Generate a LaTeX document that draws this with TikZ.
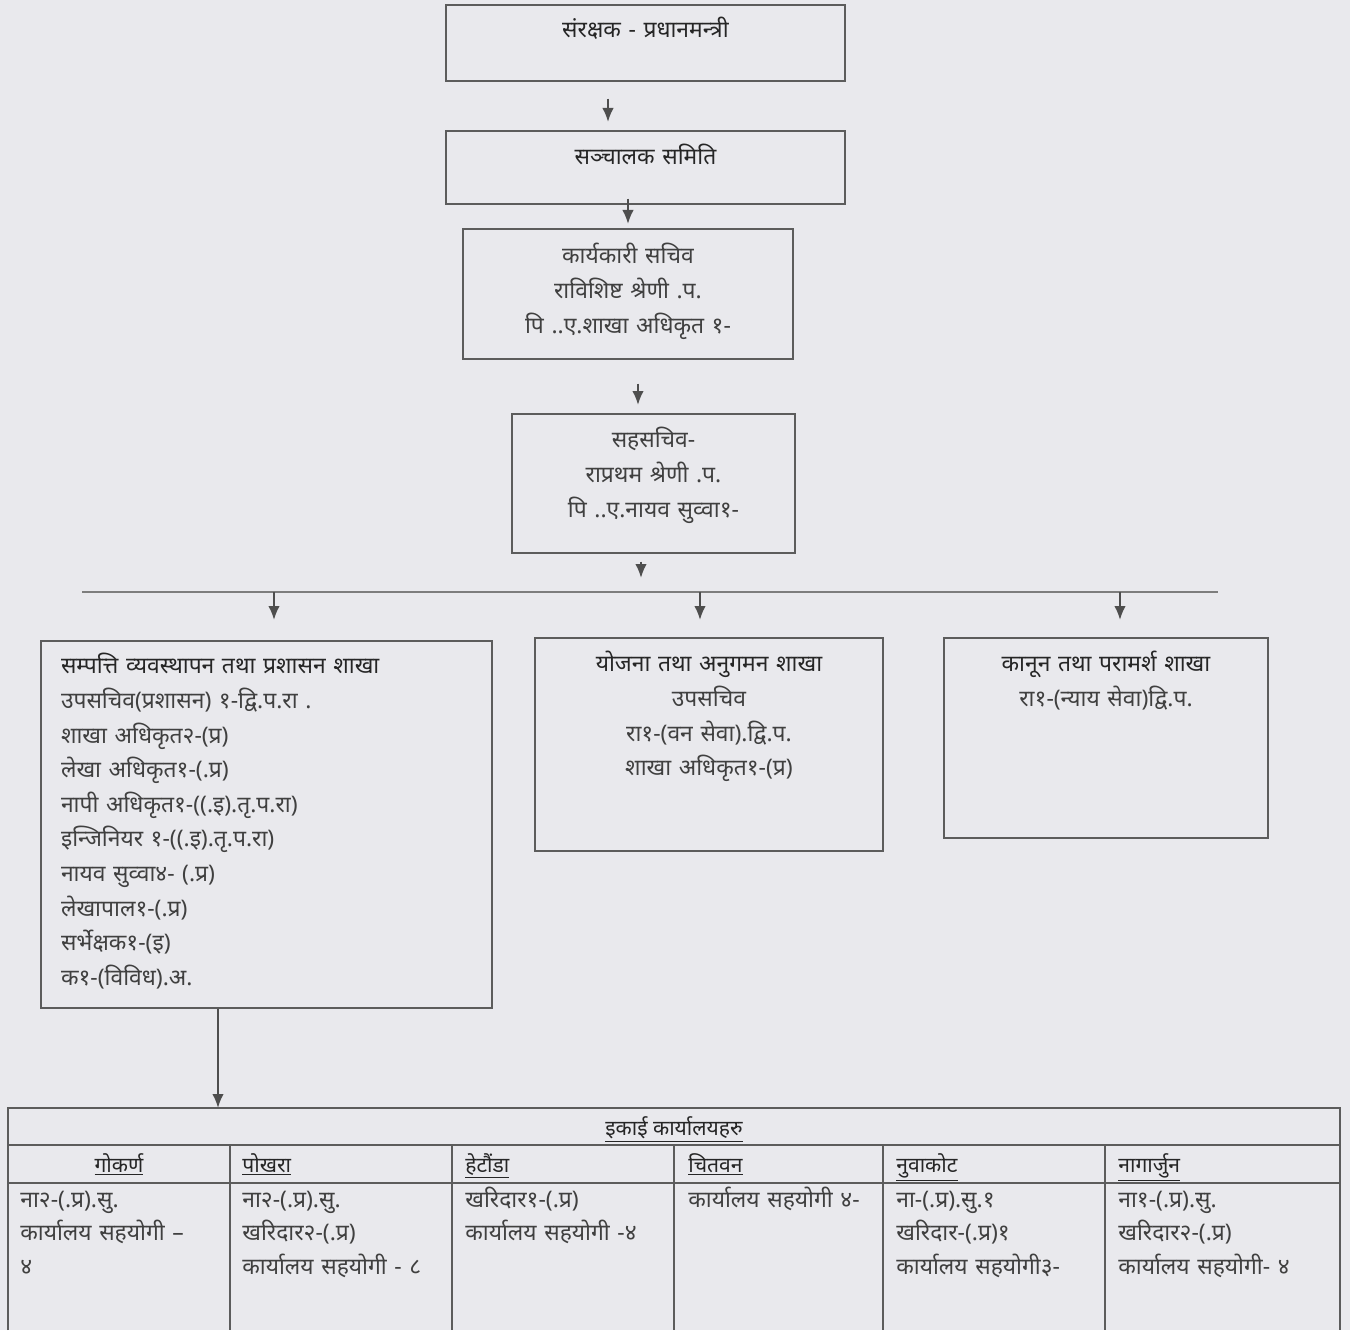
\documentclass[tikz,border=0pt]{standalone}
\usepackage{fontspec}
\usepackage{tikz}
\usetikzlibrary{arrows.meta,positioning}
\newfontfamily\deva[Script=Devanagari]{Noto Sans}
\definecolor{scanbg}{HTML}{E9E9ED}
\definecolor{scanline}{HTML}{5C5C5C}
\definecolor{scantext}{HTML}{404040}
\definecolor{scandark}{HTML}{262626}

\begin{document}
\begin{tikzpicture}[x=0.02cm,y=-0.02cm,
        box/.style={draw=scanline,line width=1pt,text=scantext,align=center,inner sep=0pt,anchor=north,
          font=\deva\fontsize{13}{19.7}\selectfont},
        lbox/.style={box,align=left,inner xsep=0.4cm},
        head/.style={text=scandark,inner sep=0pt,anchor=base west,font=\deva\fontsize{12}{14}\selectfont},
        cell/.style={text=scantext,align=left,inner sep=0pt,anchor=base west,text width=4.2cm,
          font=\deva\fontsize{13}{19.2}\selectfont},
        grid/.style={scanline,line width=0.9pt},
        bus/.style={scanline!80,line width=1.6pt},
        arr/.style={-{Latex[length=2.8mm,width=2.3mm]},scanline!85!black,line width=1.1pt}]
        \fill[scanbg](0,0)rectangle(1350,1330);
        % top chain
        \node[box,text width=7.98cm,text height=0.66cm,text depth=0.86cm](a)at(645.5,4){\color{scandark}संरक्षक - प्रधानमन्त्री};
        \node[box,text width=7.98cm,text height=0.68cm,text depth=0.78cm](b)at(645.5,130){\color{scandark}सञ्चालक समिति};
        \node[box,text width=6.6cm,text height=0.7cm,text depth=1.9cm](c)at(628,228){कार्यकारी सचिव\\राविशिष्ट श्रेणी .प.\\पि ..ए.शाखा अधिकृत १-};
        \node[box,text width=5.66cm,text height=0.68cm,text depth=2.1cm](d)at(653.5,413){सहसचिव-\\राप्रथम श्रेणी .प.\\पि ..ए.नायव सुव्वा१-};
        \draw[arr,shorten <=0.34cm,shorten >=0.16cm]([xshift=-0.75cm]a.south)--([xshift=-0.75cm]a.south|-b.north);
        \draw[arr,shorten <=-0.12cm,shorten >=0.08cm](b.south-|c.north)--(c.north);
        \draw[arr,shorten <=0.48cm,shorten >=0.16cm]([xshift=0.2cm]c.south)--([xshift=0.2cm]c.south|-d.north);
        % branches
        \coordinate(busl)at(82,592);\coordinate(busr)at(1218,592);
        \draw[bus](busl)--(busr);
        \draw[arr,shorten <=0.16cm,shorten >=0.28cm]([xshift=-0.25cm]d.south)--([xshift=-0.25cm]d.south|-busl);
        \node[lbox,text width=8.22cm,text height=0.66cm,text depth=6.68cm](e)at(266.5,640){{\color{scandark}सम्पत्ति व्यवस्थापन तथा प्रशासन शाखा}\\उपसचिव(प्रशासन) १-द्वि.प.रा .\\शाखा अधिकृत२-(प्र)\\लेखा अधिकृत१-(.प्र)\\नापी अधिकृत१-((.इ).तृ.प.रा)\\इन्जिनियर १-((.इ).तृ.प.रा)\\नायव सुव्वा४- (.प्र)\\लेखापाल१-(.प्र)\\सर्भेक्षक१-(इ)\\क१-(विविध).अ.};
        \node[box,text width=6.96cm,text height=0.68cm,text depth=3.58cm](f)at(709,637){{\color{scandark}योजना तथा अनुगमन शाखा}\\उपसचिव\\रा१-(वन सेवा).द्वि.प.\\शाखा अधिकृत१-(प्र)};
        \node[box,text width=6.48cm,text height=0.68cm,text depth=3.32cm](g)at(1106,637){{\color{scandark}कानून तथा परामर्श शाखा}\\रा१-(न्याय सेवा)द्वि.प.};
        \draw[arr]([xshift=0.15cm]e.north|-busl)--([xshift=0.15cm,yshift=0.4cm]e.north);
        \draw[arr]([xshift=-0.18cm]f.north|-busl)--([xshift=-0.18cm,yshift=0.34cm]f.north);
        \draw[arr]([xshift=0.28cm]g.north|-busl)--([xshift=0.28cm,yshift=0.34cm]g.north);
        % unit offices table
        \coordinate(tl)at(8,1108);
        \draw[grid](8,1330)--(tl)--(1340,1108)--(1340,1330);
        \draw[grid](8,1145)--(1340,1145) (8,1183)--(1340,1183);
        \draw[grid](230,1145)--(230,1330) (452,1145)--(452,1330) (674,1145)--(674,1330)
          (883,1145)--(883,1330) (1105,1145)--(1105,1330);
        \draw[arr]([xshift=-0.97cm]e.south)--([xshift=-0.97cm]e.south|-tl);
        \node[head,anchor=base](h)at(674,1135){\underline{इकाई कार्यालयहरु}};
        \node[head,anchor=base](h1)at(119,1172){\underline{गोकर्ण}};
        \node[head](h2)at(242,1172){\underline{पोखरा}};
        \node[head](h3)at(465,1172){\underline{हेटौंडा}};
        \node[head](h4)at(688,1172){\underline{चितवन}};
        \node[head](h5)at(896,1172){\underline{नुवाकोट}};
        \node[head](h6)at(1118,1172){\underline{नागार्जुन}};
        \node[cell](u1)at(20,1207){ना२-(.प्र).सु.\\कार्यालय सहयोगी –\\४};
        \node[cell](u2)at(242,1207){ना२-(.प्र).सु.\\खरिदार२-(.प्र)\\कार्यालय सहयोगी - ८};
        \node[cell](u3)at(465,1207){खरिदार१-(.प्र)\\कार्यालय सहयोगी -४};
        \node[cell](u4)at(688,1207){कार्यालय सहयोगी ४-};
        \node[cell](u5)at(896,1207){ना-(.प्र).सु.१\\खरिदार-(.प्र)१\\कार्यालय सहयोगी३-};
        \node[cell](u6)at(1118,1207){ना१-(.प्र).सु.\\खरिदार२-(.प्र)\\कार्यालय सहयोगी- ४};
      \end{tikzpicture}
\end{document}
